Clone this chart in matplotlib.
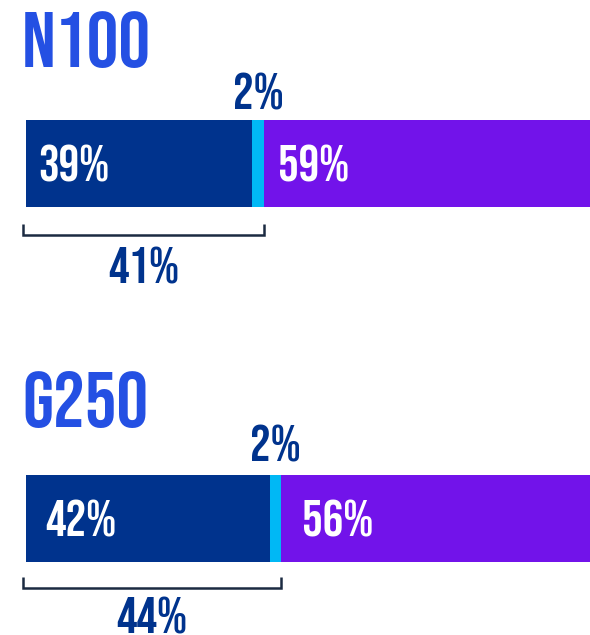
import matplotlib.pyplot as plt

# shares of the three groups for each index
groups = ["N100", "G250"]
first = [39, 42]
middle = [2, 2]
rest = [59, 56]
combined = [41, 44]

navy = "#00338D"
cyan = "#00B8F5"
purple = "#7213EA"
title_blue = "#2450E3"
bracket_col = "#1B2A41"

plt.rcParams["font.family"] = ["Bebas Neue", "Barlow Condensed", "DejaVu Sans"]

W, H = 590, 635
fig = plt.figure(figsize=(W / 100, H / 100), dpi=100)
ax = fig.add_axes([0, 0, 1, 1])

# x in percent, 5.8 px per percent, bars start 26 px from the left
px = 5.8
x0 = 26
ax.set_xlim(-x0 / px, (W - x0) / px)
ax.set_ylim(H, 0)
ax.axis("off")

bar_mid = [163.5, 518.5]
bar_h = 87
title_base = [67, 427]
small_base = [110, 462]
brk_y = [235, 588]
inner_pad = [2.1, 3.3]

for i, g in enumerate(groups):
    y = bar_mid[i]
    ax.barh(y, first[i], height=bar_h, left=0, color=navy)
    ax.barh(y, middle[i], height=bar_h, left=first[i], color=cyan)
    ax.barh(y, rest[i], height=bar_h, left=first[i] + middle[i], color=purple)

    ax.text(-0.7, title_base[i], g, color=title_blue, fontsize=57,
            fontweight="bold", va="baseline", ha="left")
    ax.text(first[i] + middle[i] / 2, small_base[i], f"{middle[i]}%", color=navy,
            fontsize=37, fontweight="bold", va="baseline", ha="center")
    ax.text(inner_pad[i], y + 18, f"{first[i]}%", color="white",
            fontsize=37, fontweight="bold", va="baseline", ha="left")
    ax.text(first[i] + middle[i] + inner_pad[i] + 0.3, y + 18, f"{rest[i]}%", color="white",
            fontsize=37, fontweight="bold", va="baseline", ha="left")

    # bracket under the first two segments
    end = first[i] + middle[i]
    by = brk_y[i]
    ax.plot([-0.5, -0.5, end, end], [by - 11, by, by, by - 11],
            color=bracket_col, lw=1.8, solid_joinstyle="miter", solid_capstyle="butt")
    ax.text((end - 0.5) / 2, min(by + 48, H - 1), f"{combined[i]}%", color=navy,
            fontsize=37, fontweight="bold", va="baseline", ha="center")

fig.savefig("out.png", dpi=100)
